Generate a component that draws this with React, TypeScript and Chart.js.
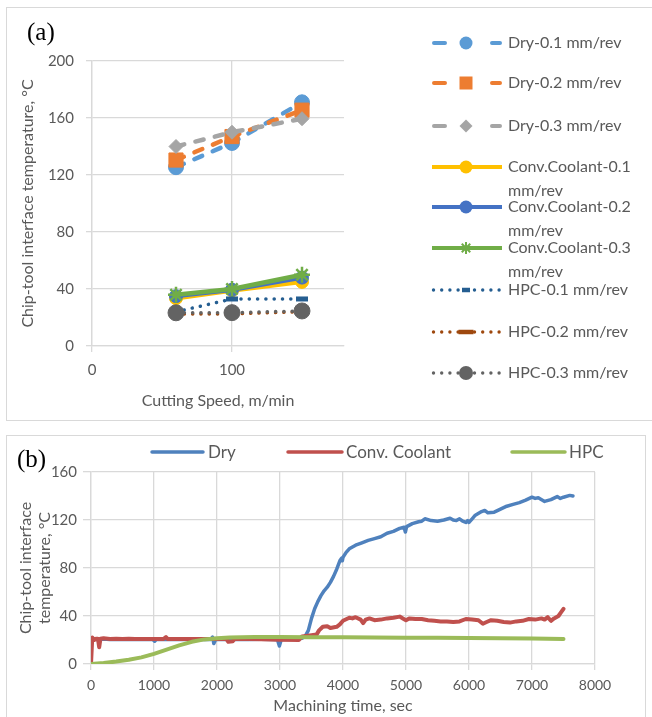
import React, { useEffect, useRef } from 'react';
import { Chart, registerables } from 'chart.js';

Chart.register(...registerables);

const FONT = 'Lato, "Open Sans", sans-serif';
const TEXT = '#595959';
const GRID = '#d9d9d9';

// ---------- Panel (a) data ----------
const speeds = [60, 100, 150];
const dry01 = [125.5, 142.5, 171];
const dry02 = [130.5, 147, 165.5];
const dry03 = [140, 150, 159.5];
const conv01 = [33.5, 39, 45];
const conv02 = [35, 39.5, 48];
const conv03 = [36, 40, 50];
const hpc01 = [24, 33, 33];
const hpc02 = [22.5, 22.5, 24];
const hpc03 = [23.3, 23.4, 24.6];
const namesA = [
  'Dry-0.1 mm/rev',
  'Dry-0.2 mm/rev',
  'Dry-0.3 mm/rev',
  'Conv.Coolant-0.1 mm/rev',
  'Conv.Coolant-0.2 mm/rev',
  'Conv.Coolant-0.3 mm/rev',
  'HPC-0.1 mm/rev',
  'HPC-0.2 mm/rev',
  'HPC-0.3 mm/rev',
];
const valuesA = [dry01, dry02, dry03, conv01, conv02, conv03, hpc01, hpc02, hpc03];
const colorsA = ['#5B9BD5', '#ED7D31', '#A5A5A5', '#FFC000', '#4472C4', '#70AD47', '#255E91', '#9E480E', '#636363'];
const lineKindA = ['dash', 'dash', 'dash', 'solid', 'solid', 'solid', 'dot', 'dot', 'dot'];
const markerA = ['circle', 'rect', 'rectRot', 'circle', 'circle', 'star', 'line', 'line', 'circle'];
const yTicksA = [0, 40, 80, 120, 160, 200];
const xTicksA = [0, 100];

// ---------- Panel (b) data ----------
const dryTime = [0, 100, 200, 300, 400, 500, 600, 700, 800, 900, 980, 1010, 1040, 1200, 1400, 1600, 1800, 1900, 1930, 1950, 1980, 2100, 2300, 2500, 2700, 2900, 2960, 2990, 3020, 3200, 3350, 3400, 3450, 3500, 3550, 3600, 3650, 3700, 3750, 3800, 3850, 3900, 3950, 3975, 3990, 4000, 4050, 4100, 4200, 4300, 4400, 4500, 4600, 4700, 4800, 4900, 4970, 4990, 5010, 5100, 5200, 5250, 5300, 5400, 5500, 5600, 5700, 5750, 5800, 5850, 5900, 5950, 5980, 6000, 6050, 6100, 6200, 6250, 6300, 6400, 6500, 6600, 6700, 6800, 6900, 7000, 7050, 7100, 7200, 7300, 7400, 7450, 7500, 7600, 7650];
const dryTemp = [21, 20.5, 20.8, 20.5, 20.6, 20.4, 20.7, 20.5, 20.6, 20.4, 20.5, 19, 20.6, 20.5, 20.6, 20.4, 20.6, 20.5, 22.5, 17, 20.5, 20.6, 20.4, 20.5, 20.6, 20.5, 20.3, 15, 20.5, 20.7, 21.5, 23, 28, 38, 46, 52, 57, 61, 64, 68, 73, 79, 86, 88, 86, 89, 93, 96, 99, 101, 103, 104.5, 106, 109, 110.5, 113, 114, 110, 114.5, 117, 118.5, 119, 121, 119.5, 119, 120, 121.5, 120, 119.5, 121, 119, 118, 119.5, 118, 121, 124, 127, 128, 126, 126.5, 129, 131.5, 133, 134.5, 136.5, 139, 138, 138.5, 135.5, 137, 139.5, 138, 139, 140.5, 140];
const convTime = [0, 20, 50, 80, 110, 130, 150, 200, 300, 400, 500, 600, 700, 800, 900, 1000, 1150, 1190, 1220, 1400, 1600, 1800, 2000, 2150, 2180, 2250, 2280, 2500, 2700, 3000, 3300, 3350, 3500, 3580, 3620, 3680, 3750, 3800, 3900, 3950, 4000, 4100, 4150, 4200, 4280, 4320, 4360, 4420, 4500, 4600, 4700, 4800, 4900, 4950, 5000, 5050, 5150, 5250, 5350, 5450, 5550, 5650, 5750, 5850, 5950, 6050, 6150, 6220, 6280, 6350, 6450, 6550, 6650, 6750, 6850, 6950, 7050, 7150, 7200, 7250, 7300, 7350, 7420, 7460, 7500];
const convTemp = [0, 22, 20, 21, 21, 14, 21, 21.5, 20.8, 21, 20.8, 21, 20.8, 20.9, 20.8, 20.9, 20.8, 22.5, 20.8, 20.9, 20.8, 20.9, 20.8, 20.8, 18.5, 19, 20.8, 20.8, 20.6, 20.2, 20, 23, 24, 24.5, 28, 31, 31.5, 30, 31, 33, 36, 38.5, 38, 39, 37, 34, 37, 38, 36.5, 37, 38, 38.5, 39.5, 38, 36.5, 38, 37.5, 37.5, 36.5, 36, 35.5, 35.5, 35, 35.5, 37.5, 37, 36.5, 33.5, 35, 36.5, 36, 35, 34.5, 35.5, 36, 37.5, 37, 38, 37, 39, 36, 38, 40, 43, 46];
const hpcTime = [0, 200, 400, 600, 800, 1000, 1200, 1400, 1600, 1800, 2000, 2200, 2600, 3000, 3500, 4000, 4500, 5000, 5500, 6000, 6500, 7000, 7500];
const hpcTemp = [0, 0.8, 2, 3.5, 5.5, 8.5, 12, 15.5, 18.5, 20.5, 21.5, 22, 22.5, 22.5, 22.3, 22.2, 22, 21.9, 21.8, 21.6, 21.4, 21.2, 20.8];
const namesB = ['Dry', 'Conv. Coolant', 'HPC'];
const colorsB = ['#4F81BD', '#C0504D', '#9BBB59'];
const yTicksB = [0, 40, 80, 120, 160];
const xTicksB = [0, 1000, 2000, 3000, 4000, 5000, 6000, 7000, 8000];

// ---------- helpers ----------
function drawMarker(ctx: CanvasRenderingContext2D, kind: string, x: number, y: number, size: number, color: string, w = 0) {
  ctx.save();
  ctx.setLineDash([]);
  ctx.fillStyle = color;
  ctx.strokeStyle = color;
  ctx.beginPath();
  if (kind === 'circle') {
    ctx.arc(x, y, size, 0, Math.PI * 2);
    ctx.fill();
  } else if (kind === 'rect') {
    ctx.rect(x - size, y - size, size * 2, size * 2);
    ctx.fill();
  } else if (kind === 'rectRot') {
    ctx.moveTo(x - size, y);
    ctx.lineTo(x, y - size);
    ctx.lineTo(x + size, y);
    ctx.lineTo(x, y + size);
    ctx.closePath();
    ctx.fill();
  } else if (kind === 'star') {
    ctx.lineWidth = 2;
    for (let k = 0; k < 4; k++) {
      const a = (k * Math.PI) / 4;
      ctx.moveTo(x - Math.cos(a) * size, y - Math.sin(a) * size);
      ctx.lineTo(x + Math.cos(a) * size, y + Math.sin(a) * size);
    }
    ctx.stroke();
  } else if (kind === 'line') {
    ctx.rect(x - size, y - w / 2, size * 2, w);
    ctx.fill();
  }
  ctx.restore();
}

const legendAPlugin = {
  id: 'legendA',
  afterDraw(chart: any) {
    const ctx: CanvasRenderingContext2D = chart.ctx;
    const rows = [36, 76, 119, 160, 200, 241, 283, 325, 366];
    const x1 = 426;
    const x2 = 496;
    const xm = 460;
    const tx = 502;
    const markerSize = [6.5, 6.5, 6.5, 6.5, 6.5, 6, 4, 7.5, 7];
    const markerW = [0, 0, 0, 0, 0, 0, 4.5, 4.5, 0];
    ctx.save();
    namesA.forEach((name, i) => {
      const y = rows[i];
      const c = colorsA[i];
      ctx.strokeStyle = c;
      ctx.lineCap = 'round';
      if (lineKindA[i] === 'dash') {
        ctx.lineWidth = 4;
        ctx.beginPath();
        ctx.moveTo(x1 + 2, y);
        ctx.lineTo(x1 + 13, y);
        ctx.moveTo(x2 - 10, y);
        ctx.lineTo(x2 - 2, y);
        ctx.stroke();
      } else if (lineKindA[i] === 'solid') {
        ctx.lineWidth = 4;
        ctx.lineCap = 'butt';
        ctx.beginPath();
        ctx.moveTo(x1, y);
        ctx.lineTo(x2, y);
        ctx.stroke();
      } else {
        ctx.fillStyle = c;
        for (let x = x1 + 1.5; x <= x2 - 1; x += 8.2) {
          ctx.beginPath();
          ctx.arc(x, y, 1.7, 0, Math.PI * 2);
          ctx.fill();
        }
      }
      drawMarker(ctx, markerA[i], xm, y, markerSize[i], c, markerW[i]);
      ctx.fillStyle = TEXT;
      ctx.font = `16px ${FONT}`;
      ctx.textBaseline = 'middle';
      ctx.textAlign = 'left';
      if (name.startsWith('Conv.')) {
        const parts = name.split(' ');
        ctx.fillText(parts[0], tx, y);
        ctx.fillText(parts[1], tx, y + 24);
      } else {
        ctx.fillText(name, tx, y);
      }
    });
    ctx.restore();
  },
};

const legendBPlugin = {
  id: 'legendB',
  afterDraw(chart: any) {
    const ctx: CanvasRenderingContext2D = chart.ctx;
    const y = 17;
    const samples = [
      [146, 197, 202],
      [282, 336, 340],
      [506, 559, 563],
    ];
    ctx.save();
    namesB.forEach((name, i) => {
      const [a, b, t] = samples[i];
      ctx.strokeStyle = colorsB[i];
      ctx.lineWidth = 3.5;
      ctx.lineCap = 'round';
      ctx.beginPath();
      ctx.moveTo(a, y);
      ctx.lineTo(b, y);
      ctx.stroke();
      ctx.fillStyle = TEXT;
      ctx.font = `17px ${FONT}`;
      ctx.textBaseline = 'middle';
      ctx.textAlign = 'left';
      ctx.fillText(name, t, y + 1);
    });
    ctx.restore();
  },
};

const plainTick = (v: any) => String(v);

function ChartA() {
  const ref = useRef<HTMLCanvasElement>(null);
  useEffect(() => {
    const pointRadius = [7.5, 10, 7, 6.5, 6.5, 8, 6, 7, 8];
    const datasets = namesA.map((name, i) => {
      const kind = lineKindA[i];
      return {
        label: name,
        data: speeds.map((s, j) => ({ x: s, y: valuesA[i][j] })),
        borderColor: colorsA[i],
        backgroundColor: colorsA[i],
        borderWidth: kind === 'dot' ? 3.5 : 4.5,
        borderDash: kind === 'dash' ? [8.5, 11.5] : kind === 'dot' ? [0.1, 8.2] : [],
        borderCapStyle: kind === 'solid' ? 'butt' : 'round',
        pointStyle: markerA[i],
        pointRadius: pointRadius[i],
        pointBackgroundColor: colorsA[i],
        pointBorderColor: colorsA[i],
        pointBorderWidth: markerA[i] === 'star' ? 2.5 : markerA[i] === 'line' ? 5 : 1,
        tension: 0,
        order: namesA.length - i,
        clip: false,
      };
    });
    const chart = new Chart(ref.current!, {
      type: 'line',
      data: { datasets } as any,
      options: {
        animation: false,
        responsive: false,
        events: [],
        layout: { padding: { top: 54, right: 308, left: 0, bottom: 0 } },
        plugins: { legend: { display: false }, tooltip: { enabled: false } },
        scales: {
          x: {
            type: 'linear',
            min: 0,
            max: 180,
            afterBuildTicks: (s: any) => {
              s.ticks = xTicksA.map((v) => ({ value: v }));
            },
            ticks: { color: TEXT, font: { size: 15, family: FONT }, padding: 9, maxRotation: 0, callback: plainTick },
            grid: { color: GRID, tickLength: 6, lineWidth: 1.3 },
            border: { color: GRID, width: 1.3 },
            title: { display: true, text: 'Cutting Speed, m/min', color: TEXT, font: { size: 16, family: FONT }, padding: { top: 0, bottom: 11 } },
            afterFit: (s: any) => {
              s.height = 75;
            },
          },
          y: {
            type: 'linear',
            min: 0,
            max: 200,
            afterBuildTicks: (s: any) => {
              s.ticks = yTicksA.map((v) => ({ value: v }));
            },
            ticks: { color: TEXT, font: { size: 15, family: FONT }, padding: 12, callback: plainTick },
            grid: { color: GRID, tickLength: 6, lineWidth: 1.3 },
            border: { color: GRID, width: 1.3 },
            title: { display: true, text: 'Chip-tool interface temperature, °C', color: TEXT, font: { size: 16, family: FONT }, padding: { top: 12, bottom: 0 } },
            afterFit: (s: any) => {
              s.width = 86;
            },
          },
        },
      } as any,
      plugins: [legendAPlugin],
    });
    return () => chart.destroy();
  }, []);
  return <canvas ref={ref} width={646} height={414} style={{ position: 'absolute', left: 6, top: 7 }} />;
}

function ChartB() {
  const ref = useRef<HTMLCanvasElement>(null);
  useEffect(() => {
    const times = [dryTime, convTime, hpcTime];
    const temps = [dryTemp, convTemp, hpcTemp];
    const datasets = namesB.map((name, i) => ({
      label: name,
      data: times[i].map((t, j) => ({ x: t, y: temps[i][j] })),
      borderColor: colorsB[i],
      backgroundColor: colorsB[i],
      borderWidth: i === 0 ? 3.5 : 4,
      pointRadius: 0,
      tension: 0,
      borderJoinStyle: 'round',
      borderCapStyle: 'round',
      order: namesB.length - i,
    }));
    const chart = new Chart(ref.current!, {
      type: 'line',
      data: { datasets } as any,
      options: {
        animation: false,
        responsive: false,
        events: [],
        layout: { padding: { top: 37, right: 51, left: 0, bottom: 0 } },
        plugins: { legend: { display: false }, tooltip: { enabled: false } },
        scales: {
          x: {
            type: 'linear',
            min: 0,
            max: 8000,
            afterBuildTicks: (s: any) => {
              s.ticks = xTicksB.map((v) => ({ value: v }));
            },
            ticks: { color: TEXT, font: { size: 14, family: FONT }, padding: 7, maxRotation: 0, autoSkip: false, callback: plainTick },
            grid: { color: GRID, tickLength: 6, lineWidth: 1.3 },
            border: { color: GRID, width: 1.3 },
            title: { display: true, text: 'Machining time, sec', color: TEXT, font: { size: 16, family: FONT }, padding: { top: 0, bottom: 2 } },
            afterFit: (s: any) => {
              s.height = 53;
            },
          },
          y: {
            type: 'linear',
            min: 0,
            max: 160,
            afterBuildTicks: (s: any) => {
              s.ticks = yTicksB.map((v) => ({ value: v }));
            },
            ticks: { color: TEXT, font: { size: 15, family: FONT }, padding: 6, callback: plainTick },
            grid: { color: GRID, tickLength: 8, lineWidth: 1.3 },
            border: { color: GRID, width: 1.3 },
            title: { display: true, text: ['Chip-tool interface', 'temperature, °C'], color: TEXT, font: { size: 16, family: FONT }, padding: { top: 10, bottom: 0 } },
            afterFit: (s: any) => {
              s.width = 85;
            },
          },
        },
      } as any,
      plugins: [legendBPlugin],
    });
    return () => chart.destroy();
  }, []);
  return <canvas ref={ref} width={640} height={282} style={{ position: 'absolute', left: 6, top: 435 }} />;
}

export default function App() {
  const labelStyle: React.CSSProperties = {
    position: 'absolute',
    fontFamily: '"Liberation Serif", "Times New Roman", serif',
    fontSize: 25,
    lineHeight: '25px',
    color: '#000',
    whiteSpace: 'nowrap',
  };
  return (
    <div style={{ position: 'absolute', left: 0, top: 0, width: 652, height: 717, overflow: 'hidden', background: '#fff' }}>
      <div style={{ position: 'absolute', left: 6, top: 7, width: 660, height: 414, border: `1px solid ${GRID}`, boxSizing: 'border-box' }} />
      <div style={{ position: 'absolute', left: 6, top: 435, width: 640, height: 300, border: `1px solid ${GRID}`, boxSizing: 'border-box' }} />
      <ChartA />
      <ChartB />
      <div style={{ ...labelStyle, left: 27, top: 19 }}>(a)</div>
      <div style={{ ...labelStyle, left: 17, top: 446 }}>(b)</div>
    </div>
  );
}
